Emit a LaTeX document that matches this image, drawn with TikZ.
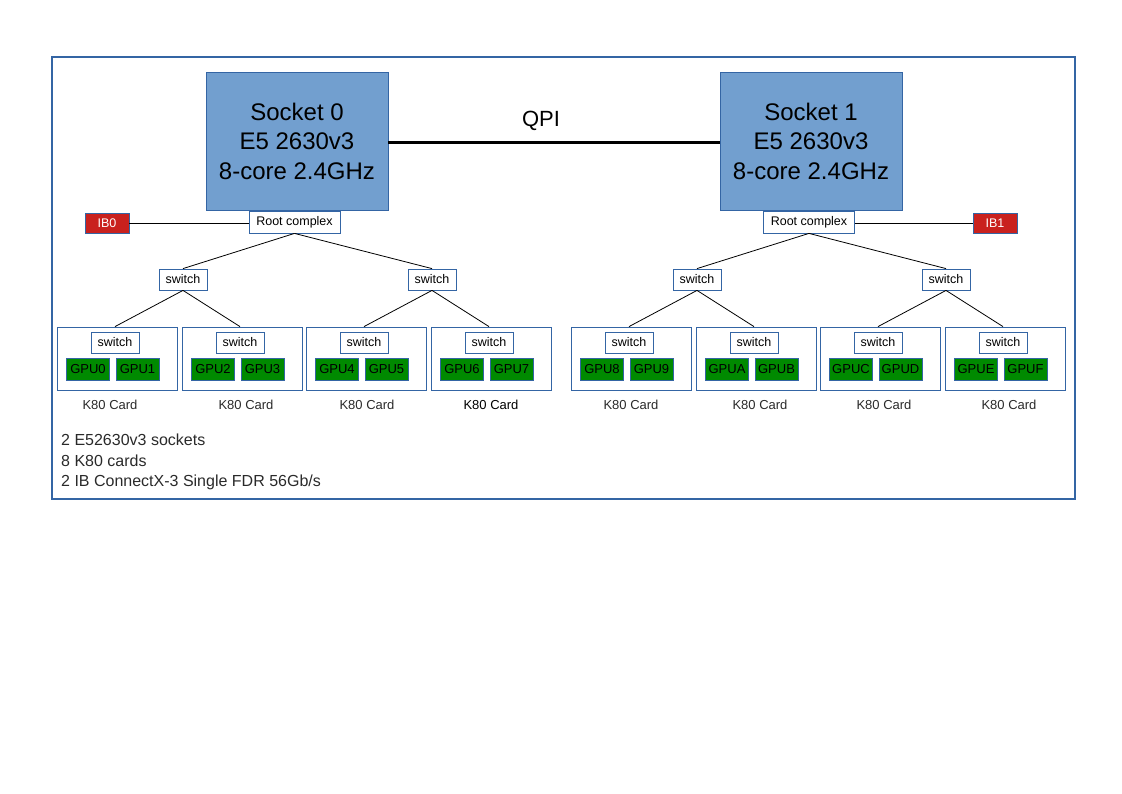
\documentclass[tikz,border=0pt]{standalone}
\usepackage{fontspec}
\setmainfont{Liberation Sans}
\definecolor{frameblue}{HTML}{3465A4}
\definecolor{sockfill}{HTML}{729FCF}
\definecolor{gpugreen}{HTML}{008A00}
\definecolor{ibred}{HTML}{C9211E}
\definecolor{txtgray}{HTML}{2A2A2A}
\begin{document}
\begin{tikzpicture}[x=1pt,y=-1pt,
  sock/.style={draw=frameblue,fill=sockfill,line width=0.8pt,minimum width=182pt,minimum height=138pt,inner sep=0pt,align=center,font=\fontsize{24}{29.5}\selectfont},
  wbox/.style={draw=frameblue,fill=white,line width=0.8pt,inner sep=0pt,font=\fontsize{12.5}{14}\selectfont},
  rc/.style={wbox,minimum width=91pt,minimum height=22pt},
  sw/.style={wbox,minimum width=48pt,minimum height=21pt},
  card/.style={draw=frameblue,line width=0.8pt,minimum width=120pt,minimum height=63pt,inner sep=0pt},
  gpu/.style={draw=frameblue,fill=gpugreen,line width=0.8pt,minimum width=43pt,minimum height=22pt,inner sep=0pt,font=\fontsize{13}{15}\selectfont},
  ib/.style={draw=frameblue,fill=ibred,text=white,line width=0.8pt,minimum width=44pt,minimum height=20pt,inner sep=0pt,font=\fontsize{12.5}{14}\selectfont},
  lbl/.style={inner sep=0pt,text=txtgray,font=\fontsize{13}{15}\selectfont},
  conn/.style={line width=0.8pt}]
\useasboundingbox (0,0) rectangle (1122,794);
\draw[frameblue,line width=2.5pt] (52,57) rectangle (1075,499);

\node[sock] (s0) at (297,141) {Socket 0\\E5 2630v3\\8-core 2.4GHz};
\node[sock] (s1) at (811,141) {Socket 1\\E5 2630v3\\8-core 2.4GHz};
\draw[line width=3pt] ([yshift=-2pt]s0.east) -- ([yshift=-2pt]s1.west);
\node[inner sep=0pt,font=\fontsize{22}{26}\selectfont] (qpi) at (541,121) {QPI};

\node[rc] (rc0) at (294.5,222) {Root complex};
\node[rc] (rc1) at (809,222) {Root complex};
\node[ib] (ib0) at (107,223) {IB0};
\node[ib] (ib1) at (995,223) {IB1};
\draw[conn] (ib0.east) -- (ib0.east -| rc0.west);
\draw[conn] (ib1.west) -- (ib1.west -| rc1.east);

\foreach \n/\x in {a/183,b/432,c/697,d/946}{
  \node[sw] (l\n) at (\x,279.5) {switch};
}
\draw[conn] (rc0.south) -- (la.north);
\draw[conn] (rc0.south) -- (lb.north);
\draw[conn] (rc1.south) -- (lc.north);
\draw[conn] (rc1.south) -- (ld.north);

\foreach \i/\x/\lx/\ga/\gb/\p/\tc in {1/117/110/GPU0/GPU1/a/txtgray,2/242/246/GPU2/GPU3/a/txtgray,3/366/367/GPU4/GPU5/b/txtgray,4/491/491/GPU6/GPU7/b/black,5/631/631/GPU8/GPU9/c/txtgray,6/756/760/GPUA/GPUB/c/txtgray,7/880/884/GPUC/GPUD/d/txtgray,8/1005/1009/GPUE/GPUF/d/txtgray}{
  \node[card] (c\i) at (\x,358.5) {};
  \node[sw] (w\i) at (\x-2,342.5) {switch};
  \node[gpu] (g\i a) at (\x-29,369) {\ga};
  \node[gpu] (g\i b) at (\x+20.5,369) {\gb};
  \node[lbl,text=\tc] (k\i) at (\lx,404.5) {K80 Card};
  \draw[conn] (l\p.south) -- (w\i |- c\i.north);
}

\node[anchor=west,align=left,inner sep=0pt,text=txtgray,font=\fontsize{16}{20.5}\selectfont] (info) at (61,462) {2 E52630v3 sockets\\8 K80 cards\\2 IB ConnectX-3 Single FDR 56Gb/s};
\end{tikzpicture}
\end{document}
